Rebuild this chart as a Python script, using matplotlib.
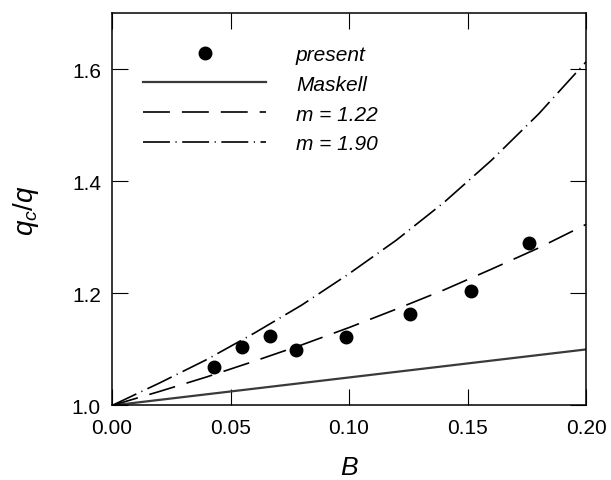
"""
Dynamic-pressure blockage correction q_c/q against blockage ratio B.
Measured points vs Maskell and two m-fits.
"""
import matplotlib
matplotlib.use("Agg")
import matplotlib.pyplot as plt

plt.rcParams.update({
    "font.family": "Liberation Sans",
    "mathtext.fontset": "custom",
    "mathtext.rm": "Liberation Sans",
    "mathtext.it": "Liberation Sans:italic",
    "lines.scale_dashes": False,
})

# measured points
b_present = [0.0432, 0.0550, 0.0667, 0.0775, 0.0989, 0.1256, 0.1513, 0.1761]
q_present = [1.068, 1.105, 1.124, 1.099, 1.123, 1.164, 1.205, 1.290]

# curves
b_curve = [0.00, 0.02, 0.04, 0.06, 0.08, 0.10, 0.12, 0.14, 0.16, 0.18, 0.20]
q_maskell = [1.000, 1.010, 1.020, 1.030, 1.040, 1.050, 1.060, 1.070, 1.080, 1.090, 1.100]
q_m122 = [1.000, 1.025, 1.051, 1.079, 1.108, 1.139, 1.172, 1.206, 1.243, 1.281, 1.323]
q_m190 = [1.000, 1.040, 1.082, 1.129, 1.179, 1.235, 1.295, 1.362, 1.437, 1.520, 1.613]

x_ticks = [0.00, 0.05, 0.10, 0.15, 0.20]
y_ticks = [1.0, 1.2, 1.4, 1.6]

fig = plt.figure(figsize=(6.11, 4.81), dpi=100)
ax = fig.add_axes([0.1833, 0.1549, 0.7759, 0.816])

ax.plot(b_present, q_present, "o", color="black", markersize=9, label="present")
ax.plot(b_curve, q_maskell, "-", color="#3a3a3a", lw=1.6, label="Maskell")
ax.plot(b_curve, q_m122, color="black", lw=1.2,
        dashes=(19.4, 8.6), label="m = 1.22")
ax.plot(b_curve, q_m190, color="black", lw=1.2,
        dashes=(19.4, 4.0, 0.8, 4.0), label="m = 1.90")

ax.set_xlim(0, 0.2)
ax.set_ylim(1.0, 1.7)
ax.set_xticks(x_ticks)
ax.set_xticklabels([f"{v:.2f}" for v in x_ticks])
ax.set_yticks(y_ticks)
ax.set_yticklabels([f"{v:.1f}" for v in y_ticks])
ax.tick_params(direction="in", length=11.5, width=0.8, labelsize=15,
               top=True, right=True)
ax.tick_params(axis="x", pad=9)
ax.tick_params(axis="y", pad=8)
for s in ax.spines.values():
    s.set_linewidth(1.1)

ax.set_xlabel("$B$", fontsize=19, labelpad=13)
ax.set_ylabel("$q_c/q$", fontsize=20, labelpad=22)

leg = ax.legend(loc="upper left", bbox_to_anchor=(0.048, 0.94), frameon=False,
                fontsize=15, handlelength=5.9, handletextpad=1.44,
                labelspacing=0.52, numpoints=1, borderaxespad=0)
for t in leg.get_texts():
    t.set_fontstyle("italic")

fig.savefig("out.png", dpi=100)
